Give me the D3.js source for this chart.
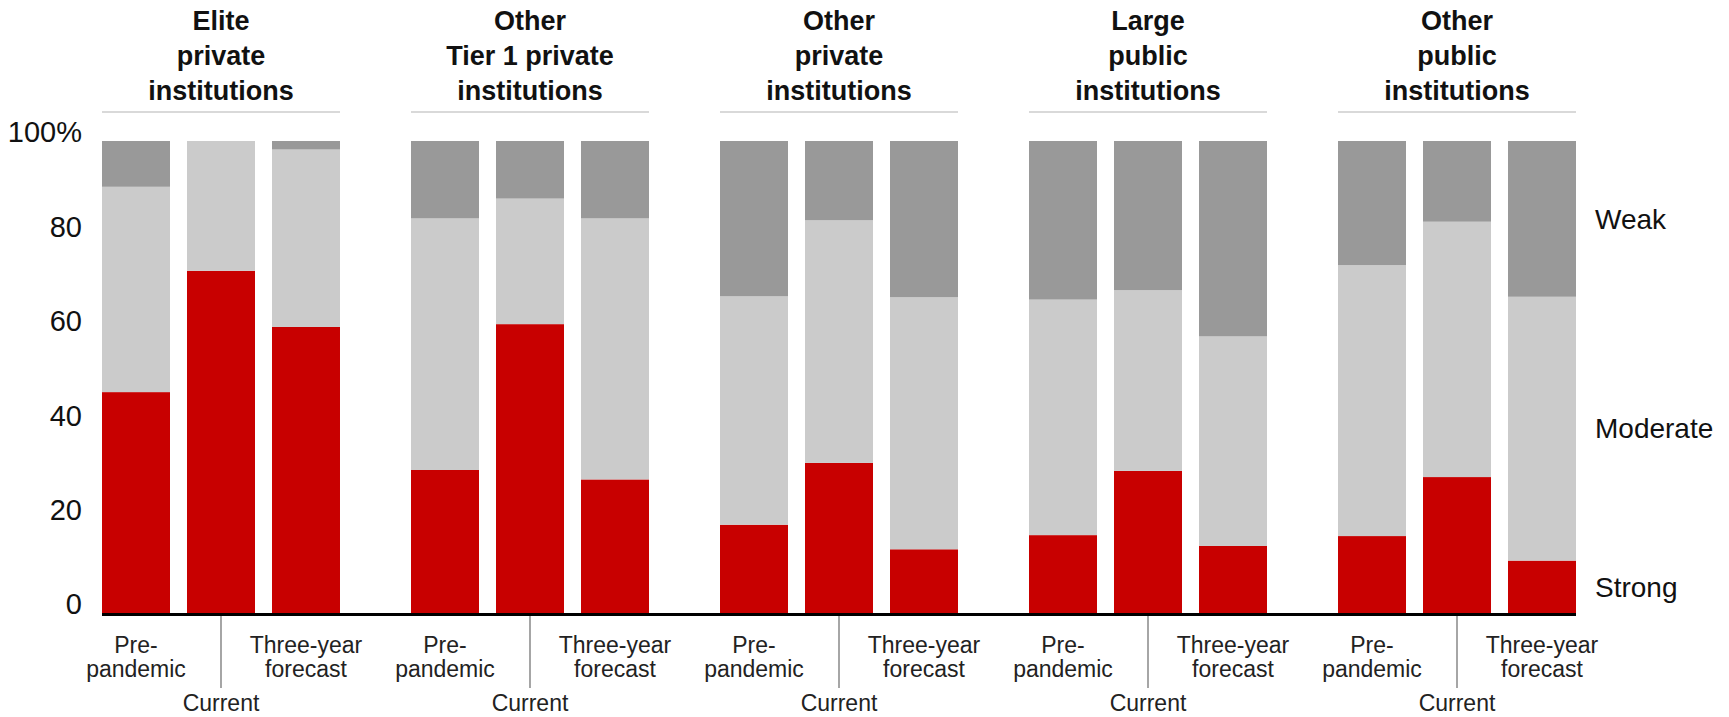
<!DOCTYPE html>
<html>
<head>
<meta charset="utf-8">
<script src="https://cdn.jsdelivr.net/npm/d3@7"></script>
<style>
  html, body { margin: 0; padding: 0; background: #fff; }
  svg { display: block; font-family: "Liberation Sans", Arial, sans-serif; }
</style>
</head>
<body>
<svg id="chart" width="1729" height="717"></svg>
<script>
"use strict";

// Data //////////////////////////////////////////////////
var groups = ["Elite private", "Other Tier 1 private", "Other private", "Large public", "Other public"];
var groupTitles = [
  ["Elite", "private", "institutions"],
  ["Other", "Tier 1 private", "institutions"],
  ["Other", "private", "institutions"],
  ["Large", "public", "institutions"],
  ["Other", "public", "institutions"]
];
var periods = ["Pre-pandemic", "Current", "Three-year forecast"];
var periodLabels = [["Pre-", "pandemic"], ["Current"], ["Three-year", "forecast"]];
var levels = ["Strong", "Moderate", "Weak"];

// share of institutions, % (rows = groups, cols = periods)
var strong = [
  [46.8, 72.5, 60.6],
  [30.3, 61.2, 28.3],
  [18.7, 31.8, 13.5],
  [16.5, 30.1, 14.2],
  [16.3, 28.8, 11.1]
];
var moderate = [
  [43.5, 27.5, 37.6],
  [53.3, 26.6, 55.3],
  [48.4, 51.4, 53.4],
  [49.9, 38.3, 44.4],
  [57.4, 54.1, 55.9]
];
var weak = [
  [9.7, 0, 1.8],
  [16.4, 12.2, 16.4],
  [32.9, 16.8, 33.1],
  [33.6, 31.6, 41.4],
  [26.3, 17.1, 33.0]
];
var yTicks = [0, 20, 40, 60, 80, 100];

var app = {

  // Chart ///////////////////////////////////////////////
  draw: function() {
  //////////////////////////////////////////////////////////

    var svg = d3.select("#chart"),
        colors = d3.scaleOrdinal().domain(levels).range(["#c80000", "#cbcbcb", "#999999"]);

    var x0 = d3.scaleBand().domain(groups).range([102, 1576]).paddingInner(0.2298),
        x1 = d3.scaleBand().domain(periods).range([0, x0.bandwidth()]).paddingInner(0.2),
        y = d3.scaleLinear().domain([0, 100]).range([613, 141]);

    // flat rows for stacking
    var rows = [];
    groups.forEach(function(g, gi) {
      periods.forEach(function(p, pi) {
        rows.push({ group: g, period: p, Strong: strong[gi][pi], Moderate: moderate[gi][pi], Weak: weak[gi][pi] });
      });
    });

    var series = d3.stack().keys(levels)(rows);

    // Bars
    svg.append("g").selectAll("g")
        .data(series)
        .join("g")
        .attr("fill", function(d) { return colors(d.key); })
      .selectAll("rect")
        .data(function(d) { return d; })
        .join("rect")
        .attr("x", function(d) { return x0(d.data.group) + x1(d.data.period); })
        .attr("y", function(d) { return y(d[1]); })
        .attr("width", x1.bandwidth())
        .attr("height", function(d) { return Math.max(0, y(d[0]) - y(d[1])); });

    // Y axis
    var yAxis = svg.append("g")
        .attr("transform", "translate(82,0)")
        .call(d3.axisLeft(y).tickValues(yTicks).tickSize(0).tickPadding(0)
          .tickFormat(function(d) { return d === 100 ? "100%" : d; }));
    yAxis.select(".domain").remove();
    yAxis.selectAll("text")
        .attr("dy", "0.03em")
        .attr("fill", "#111")
        .style("font-size", "29px")
        .style("font-family", "'Liberation Sans', Arial, sans-serif");

    // Baseline
    svg.append("line")
        .attr("x1", x0.range()[0]).attr("x2", x0.range()[1])
        .attr("y1", y(0) + 1.5).attr("y2", y(0) + 1.5)
        .attr("stroke", "#000").attr("stroke-width", 3);

    // Group titles + underline
    var gTitle = svg.append("g").selectAll("g")
        .data(groups)
        .join("g")
        .attr("transform", function(d) { return "translate(" + (x0(d) + x0.bandwidth() / 2) + ",0)"; });

    gTitle.append("line")
        .attr("x1", -x0.bandwidth() / 2).attr("x2", x0.bandwidth() / 2)
        .attr("y1", 112).attr("y2", 112)
        .attr("stroke", "#cccccc").attr("stroke-width", 1.5);

    gTitle.selectAll("text")
        .data(function(d, i) { return groupTitles[i]; })
        .join("text")
        .attr("text-anchor", "middle")
        .attr("y", function(d, i) { return 30 + i * 35; })
        .attr("font-weight", "bold")
        .attr("font-size", "27px")
        .attr("fill", "#111")
        .text(function(d) { return d; });

    // Period labels under each group
    groups.forEach(function(g) {
      var gx = x0(g);

      svg.append("line")
          .attr("x1", gx + x0.bandwidth() / 2).attr("x2", gx + x0.bandwidth() / 2)
          .attr("y1", y(0) + 3).attr("y2", 688)
          .attr("stroke", "#888").attr("stroke-width", 1.5);

      periods.forEach(function(p, pi) {
        var cx = gx + x1(p) + x1.bandwidth() / 2,
            startY = p === "Current" ? 711 : 653;
        svg.append("g").selectAll("text")
            .data(periodLabels[pi])
            .join("text")
            .attr("x", cx)
            .attr("y", function(d, i) { return startY + i * 24; })
            .attr("text-anchor", "middle")
            .attr("font-size", "23px")
            .attr("fill", "#222")
            .text(function(d) { return d; });
      });
    });

    // Right-hand level labels, at the middle of the last bar's segments
    var last = series.map(function(s) { return s[s.length - 1]; });
    svg.append("g").selectAll("text")
        .data(last)
        .join("text")
        .attr("x", 1595)
        .attr("y", function(d) { return (y(d[0]) + y(d[1])) / 2; })
        .attr("dy", "0.35em")
        .attr("font-size", "28px")
        .attr("fill", "#111")
        .text(function(d, i) { return levels[i]; });
  },

  //////////////////////////////////////////////////////////
  runApp: function() {
  //////////////////////////////////////////////////////////
    app.draw();
  }

};

app.runApp();
</script>
</body>
</html>
